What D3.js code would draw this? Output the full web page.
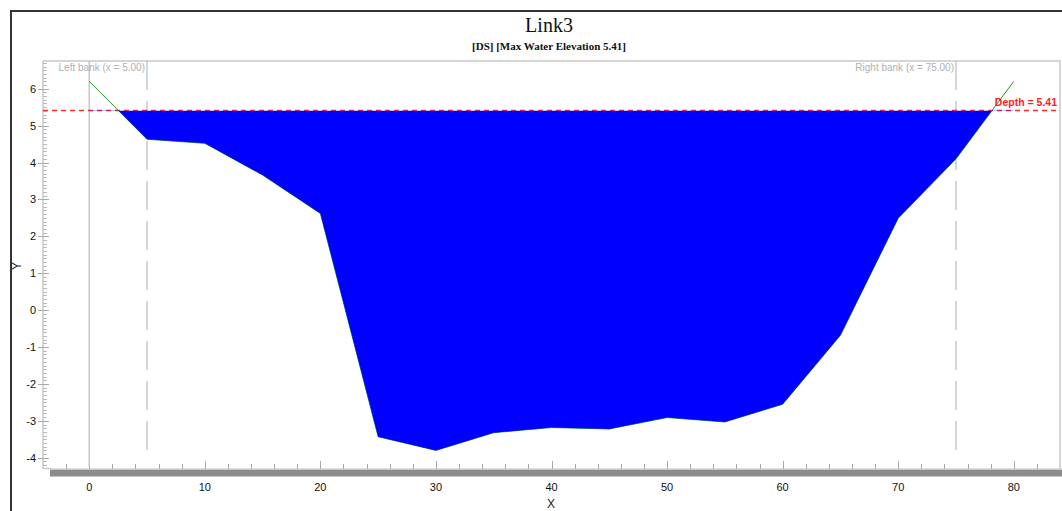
<!DOCTYPE html>
<html>
<head>
<meta charset="utf-8">
<script src="https://cdn.jsdelivr.net/npm/d3@7"></script>
<style>
  body { margin: 0; background: #fff; }
  svg { display: block; }
  text { font-family: "Liberation Sans", Arial, sans-serif; }
</style>
</head>
<body>
<svg id="chart" width="1062" height="511"></svg>
<script>
// cross section data (station / bed elevation)
const stations = [0, 5, 10, 15, 20, 25, 30, 35, 40, 45, 50, 55, 60, 65, 70, 75, 80];
const elevations = [6.2, 4.63, 4.52, 3.66, 2.62, -3.43, -3.8, -3.32, -3.18, -3.22, -2.91, -3.03, -2.55, -0.68, 2.49, 4.1, 6.2];
const waterElevation = 5.41;
const leftBank = 5.0;
const rightBank = 75.0;
const xTickLabels = [0, 10, 20, 30, 40, 50, 60, 70, 80];
const yTickLabels = [-4, -3, -2, -1, 0, 1, 2, 3, 4, 5, 6];

let svg = d3.select("svg"),
    width = +svg.attr("width"),
    height = +svg.attr("height");

let plotLeft = 43, plotRight = 1060, plotTop = 61, plotBottom = 467;

let x = d3.scaleLinear().domain([-4, 84]).range([plotLeft, plotRight]);
let y = d3.scaleLinear().domain([-4.25, 6.75]).range([plotBottom, plotTop]);

let profile = stations.map((s, i) => ({ x: s, y: elevations[i] }));

// outer frame
svg.append("rect")
  .attr("x", 11).attr("y", 11)
  .attr("width", 1100).attr("height", 600)
  .attr("fill", "none").attr("stroke", "#333").attr("stroke-width", 2);

// titles
svg.append("text")
  .attr("x", 549).attr("y", 32)
  .attr("text-anchor", "middle")
  .style("font-family", "'Liberation Serif', 'Times New Roman', serif")
  .style("font-size", "20px")
  .attr("fill", "#111")
  .text("Link3");
svg.append("text")
  .attr("x", 549).attr("y", 50)
  .attr("text-anchor", "middle")
  .style("font-family", "'Liberation Serif', 'Times New Roman', serif")
  .style("font-size", "11px")
  .style("font-weight", "bold")
  .attr("fill", "#111")
  .text("[DS] [Max Water Elevation 5.41]");

// plot border (top and right)
svg.append("path")
  .attr("d", `M${plotLeft},${plotTop}H${plotRight}V${plotBottom + 2}`)
  .attr("fill", "none").attr("stroke", "#c8c8c8").attr("stroke-width", 1.5);

// y axis line and ticks
let g = svg.append("g");
g.append("line")
  .attr("x1", plotLeft).attr("x2", plotLeft)
  .attr("y1", plotTop).attr("y2", plotBottom + 2)
  .attr("stroke", "#c8c8c8").attr("stroke-width", 1.5);
g.append("line")
  .attr("x1", plotLeft).attr("x2", 51)
  .attr("y1", plotBottom + 1.5).attr("y2", plotBottom + 1.5)
  .attr("stroke", "#c8c8c8").attr("stroke-width", 1.5);

let minorY = d3.range(-42, 68).map(d => d / 10).filter(d => Math.round(d * 10) % 10 !== 0);
g.selectAll(".ytick-minor")
  .data(minorY)
  .enter().append("line")
  .attr("x1", plotLeft).attr("x2", plotLeft + 4)
  .attr("y1", d => Math.round(y(d)) + 0.5).attr("y2", d => Math.round(y(d)) + 0.5)
  .attr("stroke", "#bbb");
g.selectAll(".ytick-major")
  .data(yTickLabels)
  .enter().append("line")
  .attr("x1", plotLeft - 5).attr("x2", plotLeft + 6)
  .attr("y1", d => Math.round(y(d)) + 0.5).attr("y2", d => Math.round(y(d)) + 0.5)
  .attr("stroke", "#aaa");
g.selectAll(".ylabel")
  .data(yTickLabels)
  .enter().append("text")
  .attr("x", 36).attr("y", d => y(d) + 4)
  .attr("text-anchor", "end")
  .style("font-size", "11px")
  .attr("fill", "#111")
  .text(d => d);

// x axis bar and ticks
svg.append("rect")
  .attr("x", 50).attr("y", 469.5)
  .attr("width", width).attr("height", 7)
  .attr("fill", "#8c8c8c");
svg.append("line")
  .attr("x1", 50).attr("x2", width)
  .attr("y1", 469).attr("y2", 469)
  .attr("stroke", "#c8c8c8");

let xTicks = d3.range(-2, 84, 2);
svg.selectAll(".xtick")
  .data(xTicks)
  .enter().append("line")
  .attr("x1", d => Math.round(x(d)) + 0.5).attr("x2", d => Math.round(x(d)) + 0.5)
  .attr("y1", d => d % 10 === 0 ? 461 : 464).attr("y2", 469)
  .attr("stroke", "#aaa");
svg.selectAll(".xlabel")
  .data(xTickLabels)
  .enter().append("text")
  .attr("x", d => x(d)).attr("y", 491)
  .attr("text-anchor", "middle")
  .style("font-size", "11px")
  .attr("fill", "#111")
  .text(d => d);

// axis titles
svg.append("text")
  .attr("x", 551).attr("y", 508)
  .attr("text-anchor", "middle")
  .style("font-size", "12px")
  .attr("fill", "#222")
  .text("X");
svg.append("text")
  .attr("transform", "translate(21,266) rotate(-90)")
  .attr("text-anchor", "middle")
  .style("font-size", "12px")
  .attr("fill", "#222")
  .text("Y");

// x = 0 reference line
svg.append("line")
  .attr("x1", x(0)).attr("x2", x(0))
  .attr("y1", plotTop).attr("y2", plotBottom)
  .attr("stroke", "#c8c8c8").attr("stroke-width", 1.5);

// bank lines
[leftBank, rightBank].forEach(b => {
  svg.append("line")
    .attr("x1", x(b)).attr("x2", x(b))
    .attr("y1", plotTop).attr("y2", 452)
    .attr("stroke", "#c8c8c8").attr("stroke-width", 1.5)
    .attr("stroke-dasharray", "29,11");
});
svg.append("text")
  .attr("x", x(leftBank) - 2).attr("y", 71)
  .attr("text-anchor", "end")
  .style("font-size", "10px")
  .attr("fill", "#b0b0b0")
  .text("Left bank (x = " + leftBank.toFixed(2) + ")");
svg.append("text")
  .attr("x", x(rightBank) - 2).attr("y", 71)
  .attr("text-anchor", "end")
  .style("font-size", "10px")
  .attr("fill", "#b0b0b0")
  .text("Right bank (x = " + rightBank.toFixed(2) + ")");

// water level line
svg.append("line")
  .attr("x1", plotLeft).attr("x2", plotRight)
  .attr("y1", y(waterElevation)).attr("y2", y(waterElevation))
  .attr("stroke", "#ff2a2a").attr("stroke-width", 1.5)
  .attr("stroke-dasharray", "5,4");

// ground line
svg.append("path")
  .datum(profile)
  .attr("d", d3.line().x(d => x(d.x)).y(d => y(d.y)))
  .attr("fill", "none").attr("stroke", "#1f9a1f").attr("stroke-width", 1);

// water fill, clipped below the water level
svg.append("clipPath").attr("id", "below")
  .append("rect")
  .attr("x", plotLeft).attr("y", y(waterElevation))
  .attr("width", plotRight - plotLeft).attr("height", plotBottom - y(waterElevation));
svg.append("path")
  .datum(profile)
  .attr("clip-path", "url(#below)")
  .attr("d", d3.area().x(d => x(d.x)).y0(y(waterElevation)).y1(d => y(d.y)))
  .attr("fill", "#0000ff");

// depth label
svg.append("text")
  .attr("x", 1057).attr("y", 106)
  .attr("text-anchor", "end")
  .style("font-size", "10.5px")
  .style("font-weight", "bold")
  .attr("fill", "#ff2020")
  .text("Depth = " + waterElevation.toFixed(2));
</script>
</body>
</html>
